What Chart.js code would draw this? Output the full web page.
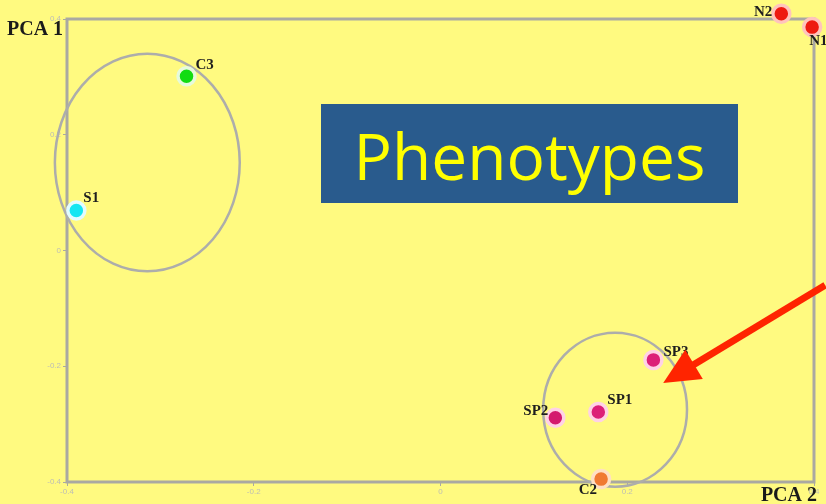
<!DOCTYPE html>
<html><head><meta charset="utf-8">
<script src="https://cdn.jsdelivr.net/npm/chart.js@4/dist/chart.umd.min.js"></script>
<style>html,body{margin:0;padding:0;background:#fffa80}#wrap{width:826px;height:504px;position:relative}</style>
</head><body><div id="wrap"><canvas id="pca"></canvas></div>
<script>
// PCA of samples, two principal components
const samples  = ['C3','S1','N2','N1','SP3','SP1','SP2','C2'];
const pca2     = [-0.272,-0.390, 0.365, 0.398, 0.228, 0.169, 0.123, 0.172];
const pca1     = [ 0.301, 0.069, 0.409, 0.386,-0.189,-0.279,-0.289,-0.395];
const dotColors  = ['#12dc12','#14e6f2','#ee1a10','#ee1a10','#dc1f78','#dc1f78','#d41a6e','#f07a32'];
const haloColors = ['#e6fadc','#e2fbff','#ffc4bc','#ffc4bc','#ffd2e6','#ffd2e6','#ffd2e6','#ffe0c4'];
const xTicks = [-0.4,-0.2,0,0.2,0.4];
const yTicks = [-0.4,-0.2,0,0.2,0.4];
// group ellipses: centre and radii in data units
const groupCx = [-0.314, 0.187];
const groupCy = [ 0.152,-0.275];
const groupRx = [ 0.099, 0.077];
const groupRy = [ 0.188, 0.133];
const arrowFrom = [0.412,-0.060];
const arrowTo   = [0.2385,-0.229];
const boxTitle = 'Phenotypes';

const BG='#fffa80', AXIS='#aaa9a2';
// label anchor: [dx, dy, align]
const labelPos = {C3:[9,-11,'left'],S1:[7,-12,'left'],N2:[-9,-2,'right'],N1:[-3,14,'left'],
  SP3:[10,-8,'left'],SP1:[9,-12,'left'],SP2:[-7,-7,'right'],C2:[-4,11,'right']};

const decor = {
  id:'decor',
  beforeDraw(c){ const x=c.ctx; x.save(); x.fillStyle=BG; x.fillRect(0,0,c.width,c.height); x.restore(); },
  beforeDatasetsDraw(c){
    const x=c.ctx, a=c.chartArea, sx=c.scales.x, sy=c.scales.y;
    x.save();
    x.strokeStyle=AXIS; x.lineWidth=3;
    x.strokeRect(a.left,a.top,a.right-a.left,a.bottom-a.top);
    x.lineWidth=2.5; x.strokeStyle='#adadab';
    for (let i=0;i<groupCx.length;i++){
      const cx=sx.getPixelForValue(groupCx[i]), cy=sy.getPixelForValue(groupCy[i]);
      const rx=Math.abs(sx.getPixelForValue(groupCx[i]+groupRx[i])-cx);
      const ry=Math.abs(sy.getPixelForValue(groupCy[i]+groupRy[i])-cy);
      x.beginPath(); x.ellipse(cx,cy,rx,ry,0,0,Math.PI*2); x.stroke();
    }
    x.restore();
  },
  afterDatasetsDraw(c){
    const x=c.ctx, sx=c.scales.x, sy=c.scales.y;
    x.save();
    // sample labels
    x.font='bold 15px "Liberation Serif", serif'; x.fillStyle='#1e1e1e'; x.textBaseline='middle';
    samples.forEach(function(s,i){
      const p=labelPos[s]; x.textAlign=p[2];
      x.fillText(s, sx.getPixelForValue(pca2[i])+p[0], sy.getPixelForValue(pca1[i])+p[1]);
    });
    // axis titles
    x.font='bold 20px "Liberation Serif", serif'; x.fillStyle='#1a1a1a'; x.textBaseline='alphabetic';
    x.textAlign='left'; x.fillText('PCA 1',7,35);
    x.textAlign='right'; x.fillText('PCA 2',817,501);
    // title box
    x.fillStyle='#295b8d'; x.fillRect(321,104,417,99);
    let fs=66; x.font=fs+'px "Open Sans", sans-serif';
    const w=x.measureText(boxTitle).width; if (w>352){ fs=Math.floor(fs*352/w); x.font=fs+'px "Open Sans", sans-serif'; }
    x.fillStyle='#ffff00'; x.textAlign='center'; x.fillText(boxTitle,529.5,180);
    // arrow
    const x0=sx.getPixelForValue(arrowFrom[0]), y0=sy.getPixelForValue(arrowFrom[1]);
    const x1=sx.getPixelForValue(arrowTo[0]),   y1=sy.getPixelForValue(arrowTo[1]);
    const ang=Math.atan2(y1-y0,x1-x0), hl=36, hw=17;
    const bx=x1-hl*Math.cos(ang), by=y1-hl*Math.sin(ang);
    x.strokeStyle='#ff2400'; x.fillStyle='#ff2400'; x.lineWidth=7; x.lineCap='butt';
    x.beginPath(); x.moveTo(x0,y0); x.lineTo(bx+2*Math.cos(ang),by+2*Math.sin(ang)); x.stroke();
    x.beginPath(); x.moveTo(x1,y1);
    x.lineTo(bx+hw*Math.sin(ang),by-hw*Math.cos(ang));
    x.lineTo(bx-hw*Math.sin(ang),by+hw*Math.cos(ang)); x.closePath(); x.fill();
    x.restore();
  }
};

new Chart(document.getElementById('pca'), {
  type:'scatter',
  data:{ datasets:[{
    data: samples.map(function(s,i){ return {x:pca2[i], y:pca1[i]}; }),
    backgroundColor: dotColors, borderColor: haloColors, borderWidth:3.5,
    pointRadius:8.5, pointHoverRadius:8.5, clip:false
  }]},
  options:{
    responsive:true, maintainAspectRatio:false, animation:false,
    layout:{padding:{top:19,right:6,left:0,bottom:0}},
    plugins:{legend:{display:false}, tooltip:{enabled:false}},
    scales:{
      x:{ min:-0.4, max:0.4,
        afterBuildTicks:function(s){ s.ticks=xTicks.map(function(v){return {value:v};}); },
        afterFit:function(s){ s.height=22; },
        grid:{display:true, drawOnChartArea:false, tickLength:4, color:AXIS},
        border:{display:false},
        ticks:{font:{size:8}, color:'#bdbdb5', padding:1, maxRotation:0}
      },
      y:{ min:-0.4, max:0.4,
        afterBuildTicks:function(s){ s.ticks=yTicks.map(function(v){return {value:v};}); },
        afterFit:function(s){ s.width=67; },
        grid:{display:true, drawOnChartArea:false, tickLength:4, color:AXIS},
        border:{display:false},
        ticks:{font:{size:8}, color:'#bdbdb5', padding:2}
      }
    }
  },
  plugins:[decor]
});
</script></body></html>
